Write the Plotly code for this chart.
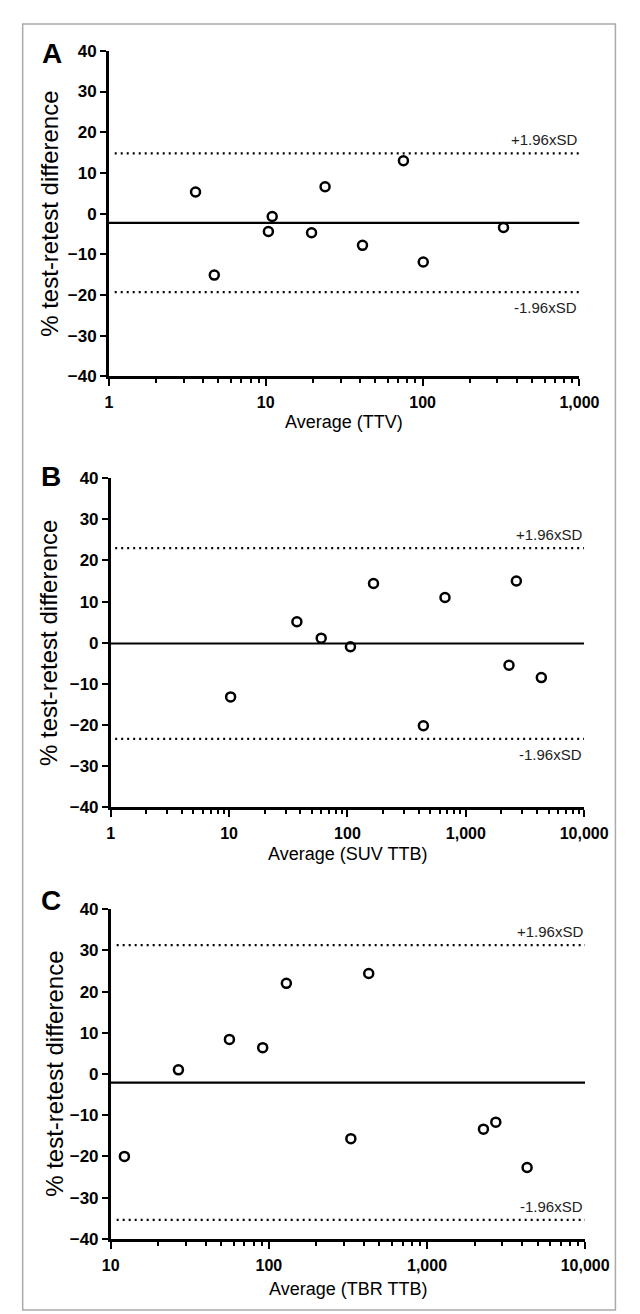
import math
import plotly.graph_objects as go

# ---- data ----
A_x = [3.57, 4.7, 10.4, 11.0, 19.6, 23.9, 41.4, 75.5, 101, 328]
A_y = [5.3, -15.1, -4.4, -0.7, -4.7, 6.6, -7.8, 13.0, -11.9, -3.4]
A_mean, A_upper, A_lower = -2.3, 14.8, -19.3

B_x = [10.3, 37.4, 60, 106, 166, 438, 667, 2317, 2673, 4345]
B_y = [-13.2, 5.1, 1.1, -1.0, 14.4, -20.2, 11.0, -5.5, 15.0, -8.5]
B_mean, B_upper, B_lower = -0.2, 23.0, -23.4

C_x = [12.2, 26.8, 56.3, 91.4, 129, 330, 428, 2275, 2724, 4296]
C_y = [-20.0, 1.0, 8.4, 6.4, 22.0, -15.7, 24.4, -13.4, -11.7, -22.7]
C_mean, C_upper, C_lower = -2.1, 31.3, -35.4

panel_letters = ["A", "B", "C"]
x_titles = ["Average (TTV)", "Average (SUV TTB)", "Average (TBR TTB)"]
x_ranges = [(1, 1000), (1, 10000), (10, 10000)]
A_ticks = [1, 10, 100, 1000]
B_ticks = [1, 10, 100, 1000, 10000]
C_ticks = [10, 100, 1000, 10000]
A_ticktext = ["1", "10", "100", "1,000"]
B_ticktext = ["1", "10", "100", "1,000", "10,000"]
C_ticktext = ["10", "100", "1,000", "10,000"]
y_ticks = [-40, -30, -20, -10, 0, 10, 20, 30, 40]
y_title = "% test-retest difference"
upper_label = "+1.96xSD"
lower_label = "-1.96xSD"

# ---- layout geometry (pixels) ----
W, H = 640, 1314
panels = [
    dict(x0=97, x1=594, top=34.3, bot=364.7, xt=411, letter=(37, 37), ytx=34),
    dict(x0=99, x1=599, top=468, bot=801.7, xt=849, letter=(36, 466), ytx=33),
    dict(x0=99, x1=600, top=905.3, bot=1239.7, xt=1291, letter=(36, 896), ytx=40),
]
xs = [A_x, B_x, C_x]
ys = [A_y, B_y, C_y]
means = [A_mean, B_mean, C_mean]
uppers = [A_upper, B_upper, C_upper]
lowers = [A_lower, B_lower, C_lower]
ticks = [A_ticks, B_ticks, C_ticks]
ticktexts = [A_ticktext, B_ticktext, C_ticktext]
lower_above = [False, False, True]

FONT = "Liberation Sans, Arial, sans-serif"
fig = go.Figure()
annotations = []
shapes = []

for i in range(3):
    p = panels[i]
    n = "" if i == 0 else str(i + 1)
    xa = "x" + n
    ya = "y" + n
    lo, hi = x_ranges[i]
    # mean line
    fig.add_trace(go.Scatter(x=[lo, hi], y=[means[i], means[i]], mode="lines",
                             line=dict(color="black", width=2.2),
                             xaxis=xa, yaxis=ya, showlegend=False, hoverinfo="skip"))
    # limits of agreement
    for v in (uppers[i], lowers[i]):
        fig.add_trace(go.Scatter(x=[lo * 1.09, hi], y=[v, v], mode="lines",
                                 line=dict(color="black", width=2.2, dash="2px,4px"),
                                 xaxis=xa, yaxis=ya, showlegend=False, hoverinfo="skip"))
    # points
    fig.add_trace(go.Scatter(x=xs[i], y=ys[i], mode="markers",
                             marker=dict(symbol="circle-open", size=9, color="black",
                                         line=dict(width=2.5, color="black")),
                             xaxis=xa, yaxis=ya, showlegend=False))

    fig.update_layout(**{
        ("xaxis" + n): dict(
            type="log", range=[math.log10(lo), math.log10(hi)],
            domain=[p["x0"] / W, p["x1"] / W], anchor=ya,
            showline=True, linecolor="black", linewidth=2.5, mirror=False,
            showgrid=False, zeroline=False,
            tickvals=ticks[i], ticktext=ticktexts[i],
            ticks="outside", ticklen=7, tickwidth=2, tickcolor="black",
            minor=dict(ticks="outside", ticklen=4, tickwidth=1.8, tickcolor="black",
                       dtick="D1", showgrid=False),
            tickfont=dict(family=FONT, size=16, color="black", weight="bold"),
            ticklabelstandoff=3,
            fixedrange=True,
        ),
        ("yaxis" + n): dict(
            range=[-40, 40], domain=[1 - p["bot"] / H, 1 - p["top"] / H], anchor=xa,
            showline=True, linecolor="black", linewidth=2.5,
            showgrid=False, zeroline=False,
            tickvals=y_ticks, ticks="outside", ticklen=6, tickwidth=2, tickcolor="black",
            tickfont=dict(family=FONT, size=17, color="black", weight="bold"),
            fixedrange=True,
        ),
    })

    # panel letter
    annotations.append(dict(text="<b>%s</b>" % panel_letters[i], x=p["letter"][0] / W,
                            y=1 - p["letter"][1] / H, xref="paper", yref="paper",
                            showarrow=False, xanchor="center", yanchor="middle",
                            font=dict(family=FONT, size=28, color="black")))
    # y title
    annotations.append(dict(text=y_title, x=p["ytx"] / W,
                            y=1 - (p["top"] + p["bot"]) / 2 / H, xref="paper", yref="paper",
                            showarrow=False, textangle=-90, xanchor="center", yanchor="middle",
                            font=dict(family=FONT, size=24, color="black")))
    # x title
    annotations.append(dict(text=x_titles[i], x=(p["x0"] + p["x1"]) / 2 / W,
                            y=1 - p["xt"] / H, xref="paper", yref="paper",
                            showarrow=False, xanchor="center", yanchor="middle",
                            font=dict(family=FONT, size=18, color="black")))
    # SD labels
    annotations.append(dict(text=upper_label, x=1, xref=xa + " domain", y=uppers[i], yref=ya,
                            showarrow=False, xanchor="right", yanchor="bottom", yshift=3,
                            font=dict(family=FONT, size=15, color="#222")))
    if lower_above[i]:
        annotations.append(dict(text=lower_label, x=1, xref=xa + " domain", y=lowers[i], yref=ya,
                                showarrow=False, xanchor="right", yanchor="bottom", yshift=3,
                                font=dict(family=FONT, size=15, color="#222")))
    else:
        annotations.append(dict(text=lower_label, x=1, xref=xa + " domain", y=lowers[i], yref=ya,
                                showarrow=False, xanchor="right", yanchor="top", yshift=-5,
                                font=dict(family=FONT, size=15, color="#222")))

# outer frame
shapes.append(dict(type="rect", xref="paper", yref="paper",
                   x0=6 / W, x1=632 / W, y0=1 - 1312 / H, y1=1 - 7 / H,
                   line=dict(color="#aaaaaa", width=1.5)))

fig.update_layout(width=W, height=H, margin=dict(l=0, r=0, t=0, b=0),
                  paper_bgcolor="white", plot_bgcolor="white",
                  annotations=annotations, shapes=shapes, showlegend=False)

fig.write_html("out.html")
